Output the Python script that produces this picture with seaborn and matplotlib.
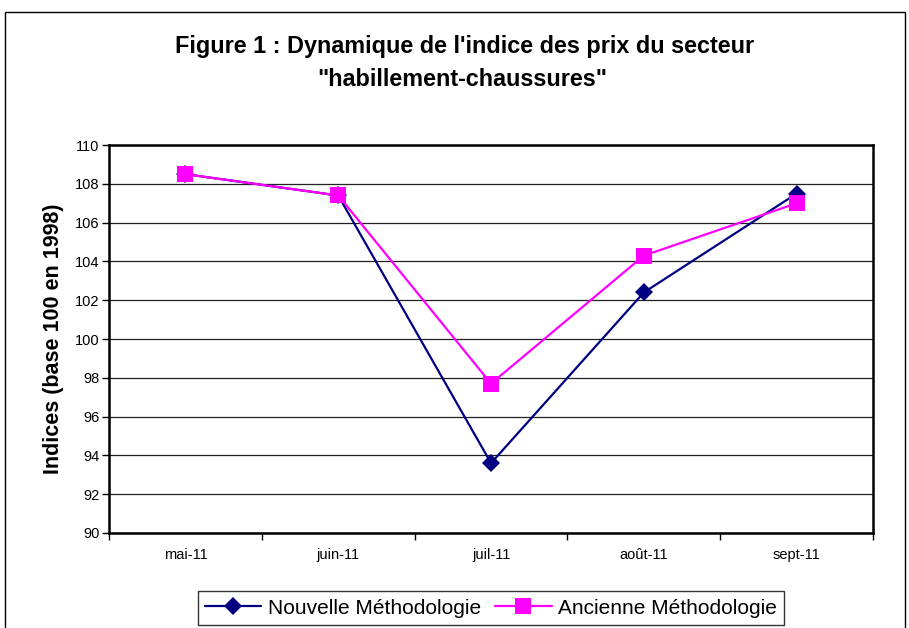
import seaborn as sns
import matplotlib.pyplot as plt
import matplotlib.patches as mpatches
import pandas as pd

months = ["mai-11", "juin-11", "juil-11", "août-11", "sept-11"]
nouvelle = [108.5, 107.4, 93.6, 102.4, 107.5]
ancienne = [108.5, 107.4, 97.7, 104.3, 107.0]
series_names = ["Nouvelle Méthodologie", "Ancienne Méthodologie"]

df = pd.DataFrame({
    "pos": list(range(len(months))) * 2,
    "val": nouvelle + ancienne,
    "serie": [series_names[0]] * len(months) + [series_names[1]] * len(months),
})

sns.set_style("white")
plt.rcParams['font.family'] = ['Liberation Sans', 'DejaVu Sans']
plt.rcParams['text.color'] = 'black'
plt.rcParams['xtick.color'] = 'black'
plt.rcParams['ytick.color'] = 'black'
plt.rcParams['axes.labelcolor'] = 'black'

fig = plt.figure(figsize=(9.09, 6.28), dpi=100)
ax = fig.add_axes([0.12, 0.1513, 0.8404, 0.6177])

sns.lineplot(data=df, x="pos", y="val", hue="serie", style="serie",
             palette={series_names[0]: "#000080", series_names[1]: "#FF00FF"},
             markers={series_names[0]: "D", series_names[1]: "s"},
             dashes=False, linewidth=1.6, markeredgewidth=0, ax=ax)
# bigger squares than diamonds, as in the original
for line in ax.lines:
    if line.get_marker() == "s":
        line.set_markersize(11)
    elif line.get_marker() == "D":
        line.set_markersize(9)

ax.set_xlim(-0.5, len(months) - 0.5)
ax.set_ylim(90, 110)
ax.set_yticks(range(90, 111, 2))
ax.tick_params(axis='y', labelsize=10.5, length=5, direction='out', left=True, width=1, pad=2)
ax.set_xticks([i - 0.5 for i in range(len(months) + 1)])
ax.set_xticklabels([""] * (len(months) + 1))
ax.set_xticks(range(len(months)), minor=True)
ax.set_xticklabels(months, minor=True, fontsize=10.5)
ax.tick_params(axis='x', which='major', length=5, direction='out', bottom=True, width=1)
ax.tick_params(axis='x', which='minor', length=0, pad=11)
ax.yaxis.grid(True, color="#222222", linewidth=0.9)
for s in ax.spines.values():
    s.set_visible(True)
    s.set_color("black")
    s.set_linewidth(1.8)

ax.set_xlabel("")
ax.set_ylabel("Indices (base 100 en 1998)", fontsize=15.5, fontweight="bold", labelpad=8)

fig.text(0.511, 1 - 46 / 628, "Figure 1 : Dynamique de l'indice des prix du secteur",
         ha="center", va="center", fontsize=16.8, fontweight="bold")
fig.text(0.509, 1 - 79 / 628, "\"habillement-chaussures\"",
         ha="center", va="center", fontsize=16.8, fontweight="bold")

handles, labels = ax.get_legend_handles_labels()
ax.get_legend().remove()
for h in handles:
    if h.get_marker() == "s":
        h.set_markersize(11)
fig.legend(handles, labels, loc="center", bbox_to_anchor=(0.540, 1 - 608 / 628), ncol=2,
           fontsize=15, frameon=True, fancybox=False, edgecolor="black",
           handlelength=2.7, handletextpad=0.3, columnspacing=0.7, borderpad=0.35,
           borderaxespad=0)

fig.patches.append(mpatches.Rectangle((5 / 909, -0.1), 0.99, 1 - 12 / 628 + 0.1,
                                      transform=fig.transFigure, fill=False,
                                      edgecolor="black", linewidth=1))

plt.savefig("out.png", dpi=100)
